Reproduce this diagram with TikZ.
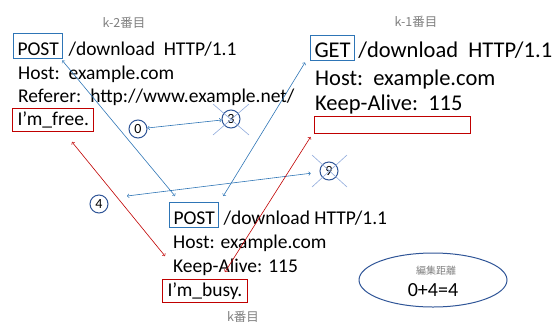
\documentclass[tikz,border=0pt]{standalone}
\usepackage{fontspec}
\setmainfont{Carlito}
\newfontfamily\jafont{Noto Sans CJK JP}
\usetikzlibrary{arrows,shapes}
\usepackage{xcolor}
\definecolor{boxblue}{HTML}{2E75B6}
\definecolor{boxred}{HTML}{C00000}
\definecolor{ringblue}{HTML}{2F5597}
\definecolor{crossblue}{HTML}{8FAADC}
\definecolor{labelgray}{HTML}{7F7F7F}

\begin{document}
\begin{tikzpicture}[x=1pt,y=-1pt]
	 \tikzstyle{reqtext}=[anchor=base west,inner sep=0pt,font=\fontsize{19.5}{22}\selectfont]
	 \tikzstyle{bigtext}=[reqtext,font=\fontsize{22.5}{25}\selectfont]
	 \tikzstyle{method}=[draw=boxblue,line width=1pt,inner xsep=4pt,inner ysep=1.5pt,text height=20pt,text depth=1.5pt,anchor=base west]
	 \tikzstyle{bodybox}=[draw=boxred,line width=1pt,inner xsep=5pt,inner ysep=1.5pt,text height=15pt,text depth=4.5pt,anchor=base west]
	 \tikzstyle{reqtitle}=[text=labelgray,inner sep=0pt,font=\jafont\fontsize{12.5}{14}\selectfont]
	 \tikzstyle{cost}=[circle,draw=ringblue,line width=1pt,minimum size=18pt,inner sep=0pt,font=\fontsize{14}{16}\selectfont]
	 \tikzstyle{match}=[draw,<->,>=to,boxblue,line width=0.6pt]
	 \tikzstyle{redarrow}=[draw,<->,>=to,boxred,line width=0.6pt]
	 \tikzstyle{crossline}=[draw,crossblue,line width=0.6pt]

	\useasboundingbox (0,0) rectangle (554,322);

	% k-2
	\node[reqtitle] (t2) at (124,23) {k-2番目};
	\node[method,font=\fontsize{19.5}{22}\selectfont] (post2) at (13,55) {POST};
	\node[reqtext] (post2rest) at ([xshift=5pt]post2.base east) {/download\ \ HTTP/1.1};
	\node[reqtext] (host2) at (18,79) {Host:\ \ example.com};
	\node[reqtext] (ref2) at (18,102) {Referer:\ \ http://www.example.net/};
	\node[bodybox,font=\fontsize{19.5}{22}\selectfont] (body2) at (12,125) {I'm\_free.};

	% k-1
	\node[reqtitle] (t1) at (416,22) {k-1番目};
	\node[method,font=\fontsize{22.5}{25}\selectfont] (get1) at (310,57) {GET};
	\node[bigtext] (get1rest) at ([xshift=3pt]get1.base east) {/download\ \ HTTP/1.1};
	\node[bigtext] (host1) at (315,85) {Host:\ \ example.com};
	\node[bigtext] (keep1) at (315,110) {Keep-Alive:\ \ 115};
	\node[draw=boxred,line width=1pt,minimum width=156pt,minimum height=17pt,inner sep=0pt] (body1) at (392,125) {};

	% k
	\node[reqtitle] (tk) at (243,317) {k番目};
	\node[method,font=\fontsize{19.5}{22}\selectfont] (postk) at (169,224) {POST};
	\node[reqtext] (postkrest) at ([xshift=4pt]postk.base east) {/download HTTP/1.1};
	\node[reqtext] (hostk) at (173,248) {Host: example.com};
	\node[reqtext] (keepk) at (173,272) {Keep-Alive: 115};
	\node[bodybox,font=\fontsize{19.5}{22}\selectfont] (bodyk) at (162,296) {I'm\_busy.};

	% costs
	\node[cost] (c0) at (138,129) {0};
	\node[cost] (c3) at (231,119) {3};
	\node[cost] (c9) at (329,171) {9};
	\node[cost] (c4) at (99,204) {4};
	\draw[crossline] ([shift={(-18,-15)}]c3.center) -- ([shift={(18,16)}]c3.center);
	\draw[crossline] ([shift={(-18,16)}]c3.center) -- ([shift={(18,-15)}]c3.center);
	\draw[crossline] ([shift={(-17,-16)}]c9.center) -- ([shift={(18,16)}]c9.center);
	\draw[crossline] ([shift={(-17,16)}]c9.center) -- ([shift={(18,-16)}]c9.center);

	\coordinate (a4) at (127,196);
	\coordinate (free) at (72,142);
	\coordinate (keepend) at (165,256);
	\coordinate (busyend) at (225,272);

	\draw[match] ([shift={(-1,2)}]post2.south east) -- ([shift={(6,-6)}]postk.north west);
	\draw[match] ([shift={(-5,2)}]get1.south west) -- ([shift={(4,-6)}]postk.north east);
	\draw[match] (c0) -- (c3);
	\draw[match,shorten >=9pt] (a4) -- (c9);
	\draw[redarrow] (free) -- (keepend);
	\draw[redarrow] ([shift={(-3,3)}]body1.south west) -- (busyend);

	% distance
	\node[ellipse,draw=ringblue,line width=1pt,minimum width=148pt,minimum height=54pt] (dist) at (433,280) {};
	\node[text=labelgray,font=\jafont\fontsize{10}{12}\selectfont] (distlabel) at ([shift={(3,-9)}]dist.center) {編集距離};
	\node[font=\fontsize{20}{22}\selectfont] (distsum) at ([shift={(0,10)}]dist.center) {0+4=4};
 \end{tikzpicture}
\end{document}
